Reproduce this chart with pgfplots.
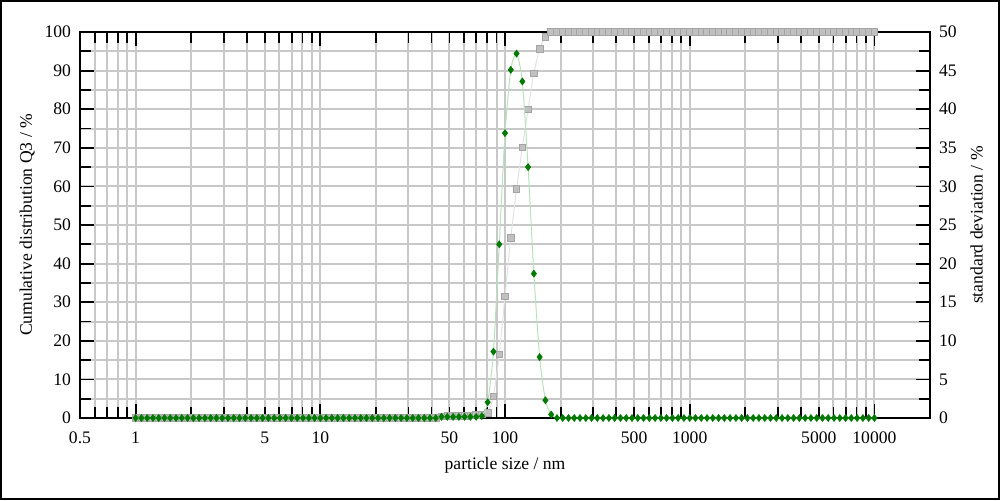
\documentclass[border=0pt]{standalone}
\usepackage{fontspec}
\setmainfont{Liberation Serif}
\usepackage{pgfplots}
\pgfplotsset{compat=1.18}
\usepackage{pgfplotstable}
\definecolor{gridgray}{HTML}{C8C8C8}
\definecolor{sqfill}{HTML}{C0C0C0}
\definecolor{sqdraw}{HTML}{A4A4A4}
\definecolor{sqline}{HTML}{E2E2E2}
\definecolor{dkgreen}{HTML}{007A00}
\definecolor{ltgreen}{HTML}{B8E2B8}

% x: particle size (nm), q3: cumulative %, sd: right axis %
\pgfplotstableread[row sep=\\]{
x q3 sd\\
1 0 0\\ 1.0746 0 0\\ 1.1548 0 0\\ 1.2409 0 0\\ 1.3335 0 0\\ 1.4330 0 0\\ 1.5399 0 0\\ 1.6548 0 0\\
1.7783 0 0\\ 1.9110 0 0\\ 2.0535 0 0\\ 2.2067 0 0\\ 2.3714 0 0\\ 2.5483 0 0\\ 2.7384 0 0\\ 2.9427 0 0\\
3.1623 0 0\\ 3.3982 0 0\\ 3.6517 0 0\\ 3.9242 0 0\\ 4.2170 0 0\\ 4.5316 0 0\\ 4.8697 0 0\\ 5.2330 0 0\\
5.6234 0 0\\ 6.0430 0 0\\ 6.4938 0 0\\ 6.9783 0 0\\ 7.4989 0 0\\ 8.0584 0 0\\ 8.6596 0 0\\ 9.3057 0 0\\
10 0 0\\ 10.746 0 0\\ 11.548 0 0\\ 12.409 0 0\\ 13.335 0 0\\ 14.330 0 0\\ 15.399 0 0\\ 16.548 0 0\\
17.783 0 0\\ 19.110 0 0\\ 20.535 0 0\\ 22.067 0 0\\ 23.714 0 0\\ 25.483 0 0\\ 27.384 0 0\\ 29.427 0 0\\
31.623 0 0\\ 33.982 0 0\\ 36.517 0 0\\ 39.242 0 0\\ 42.170 0 0\\ 45.316 0.4 0.15\\ 48.697 0.5 0.15\\ 52.330 0.5 0.15\\
56.234 0.6 0.15\\ 60.430 0.6 0.15\\ 64.938 0.7 0.15\\ 69.783 0.8 0.15\\ 74.989 0.9 0.25\\ 80.584 1.4 2.05\\ 86.596 5.6 8.6\\ 93.057 16.5 22.5\\
100 31.5 36.9\\ 107.46 46.7 45.1\\ 115.48 59.3 47.2\\ 124.09 70.1 43.6\\ 133.35 80.0 32.5\\ 143.30 89.3 18.7\\ 153.99 95.6 7.9\\ 165.48 98.8 2.3\\
177.83 100 0.45\\ 191.10 100 0\\ 205.35 100 0\\ 220.67 100 0\\ 237.14 100 0\\ 254.83 100 0\\ 273.84 100 0\\ 294.27 100 0\\
316.23 100 0\\ 339.82 100 0\\ 365.17 100 0\\ 392.42 100 0\\ 421.70 100 0\\ 453.16 100 0\\ 486.97 100 0\\ 523.30 100 0\\
562.34 100 0\\ 604.30 100 0\\ 649.38 100 0\\ 697.83 100 0\\ 749.89 100 0\\ 805.84 100 0\\ 865.96 100 0\\ 930.57 100 0\\
1000 100 0\\ 1074.6 100 0\\ 1154.8 100 0\\ 1240.9 100 0\\ 1333.5 100 0\\ 1433.0 100 0\\ 1539.9 100 0\\ 1654.8 100 0\\
1778.3 100 0\\ 1911.0 100 0\\ 2053.5 100 0\\ 2206.7 100 0\\ 2371.4 100 0\\ 2548.3 100 0\\ 2738.4 100 0\\ 2942.7 100 0\\
3162.3 100 0\\ 3398.2 100 0\\ 3651.7 100 0\\ 3924.2 100 0\\ 4217.0 100 0\\ 4531.6 100 0\\ 4869.7 100 0\\ 5233.0 100 0\\
5623.4 100 0\\ 6043.0 100 0\\ 6493.8 100 0\\ 6978.3 100 0\\ 7498.9 100 0\\ 8058.4 100 0\\ 8659.6 100 0\\ 9305.7 100 0\\
10000 100 0\\
}\psd

\pgfplotsset{
  every axis/.append style={
    tick label style={font=\fontsize{8.8}{10}\selectfont},
    label style={font=\fontsize{8.8}{10}\selectfont},
  },
}
\pgfkeys{/pgf/number format/assume math mode=true}

\begin{document}
\begin{tikzpicture}
\begin{axis}[
  name=main,
  scale only axis, width=425pt, height=193pt,
  xmode=log, xmin=0.5, xmax=20000,
  ymin=0, ymax=100,
  clip=false,
  tick align=inside,
  major tick length=7pt, minor tick length=5.5pt,
  tick style={black, line width=0.9pt},
  axis line style={black, line width=0.8pt},
  xtick={1,10,100,1000,10000},
  xticklabels={1,10,100,1000,10000},
  minor xtick={0.6,0.7,0.8,0.9,2,3,4,5,6,7,8,9,20,30,40,50,60,70,80,90,
    200,300,400,500,600,700,800,900,2000,3000,4000,5000,6000,7000,8000,9000},
  extra x ticks={0.5,5,50,500,5000},
  extra x tick labels={0.5,5,50,500,5000},
  extra x tick style={major tick length=5.5pt, grid=none},
  xticklabel style={yshift=-3.5pt},
  ytick={0,10,...,100}, minor ytick={5,15,...,95},
  ytick pos=left,
  yticklabel style={xshift=-1pt},
  xmajorgrids, xminorgrids, ymajorgrids, yminorgrids,
  major grid style={gridgray, line width=1pt},
  minor grid style={gridgray, line width=1pt},
  xlabel={particle size / nm},
  ylabel={Cumulative distribution Q3 / \%},
  xlabel style={yshift=0pt},
  ylabel style={yshift=-2pt},
]
\addplot[sqline, line width=0.5pt, smooth, tension=0.4,
  mark=square*, mark size=1.65pt,
  mark options={fill=sqfill, draw=sqdraw, line width=0.4pt}]
  table[x=x, y=q3] {\psd};
\coordinate (sw) at (rel axis cs:0,0);
\end{axis}
\begin{axis}[
  at={(main.south west)}, anchor=south west,
  scale only axis, width=425pt, height=193pt,
  xmode=log, xmin=0.5, xmax=20000,
  ymin=0, ymax=50,
  clip=false,
  axis x line=none, axis y line*=right,
  tick align=inside,
  major tick length=7pt, minor tick length=5.5pt,
  tick style={black, line width=0.9pt},
  axis line style={black, line width=0.8pt, -},
  ytick={0,5,...,50}, minor ytick={2.5,7.5,...,47.5},
  yticklabel style={xshift=1pt},
  ylabel={standard deviation / \%},
  ylabel style={yshift=0pt},
]
\addplot[ltgreen, line width=0.5pt, smooth, tension=0.4,
  mark=diamond*, mark size=1.75pt,
  mark options={fill=dkgreen, draw=dkgreen, line width=0.3pt}]
  table[x=x, y=sd] {\psd};
\end{axis}
\pgfresetboundingbox
\draw[line width=1pt] ([shift={(-39.5pt,-40.5pt)}]sw) rectangle ([shift={(459.5pt,208.5pt)}]sw);
\end{tikzpicture}
\end{document}
